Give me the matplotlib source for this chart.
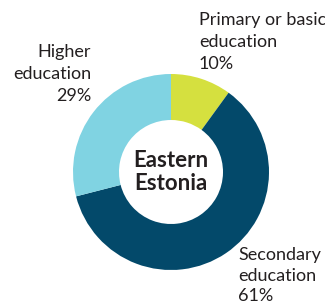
import matplotlib.pyplot as plt

kategoriler = ["Primary or basic\neducation", "Secondary\neducation", "Higher\neducation"]
oranlar = [10, 61, 29]
renkler = ["#d5e03f", "#03496a", "#80d3e2"]
merkez_yazi = "Eastern\nEstonia"

plt.rcParams['font.family'] = ['Lato', 'DejaVu Sans']

fig = plt.figure(figsize=(3.25, 3.08), dpi=100)
ax = fig.add_axes([0, 0, 1, 1])
ax.set_xlim(0, 325)
ax.set_ylim(0, 308)
ax.set_aspect('equal')
ax.axis('off')

# piksel koordinatlari ile cizim
cx, cy = 171, 308 - 172
ax.pie(oranlar, colors=renkler, startangle=90, counterclock=False,
       center=(cx, cy), radius=98,
       wedgeprops=dict(width=46, linewidth=0))
ax.set_xlim(0, 325)
ax.set_ylim(0, 308)

ax.text(cx, cy, merkez_yazi, ha='center', va='center', fontsize=16,
        fontweight='bold', color='#231f20', linespacing=1.15)

yazi = dict(fontsize=13, color='#231f20', linespacing=1.45)
ax.text(199, 308 - 12, f"{kategoriler[0]}\n{oranlar[0]}%", ha='left', va='top', **yazi)
ax.text(91, 308 - 44, f"{kategoriler[2]}\n{oranlar[2]}%", ha='right', va='top',
        multialignment='right', **yazi)
# alttaki etiket kesilmesin diye biraz yukari
ax.text(238, 308 - 247, f"{kategoriler[1]}\n{oranlar[1]}%", ha='left', va='top',
        fontsize=13, color='#231f20', linespacing=1.35)

fig.savefig("out.png", dpi=100)
